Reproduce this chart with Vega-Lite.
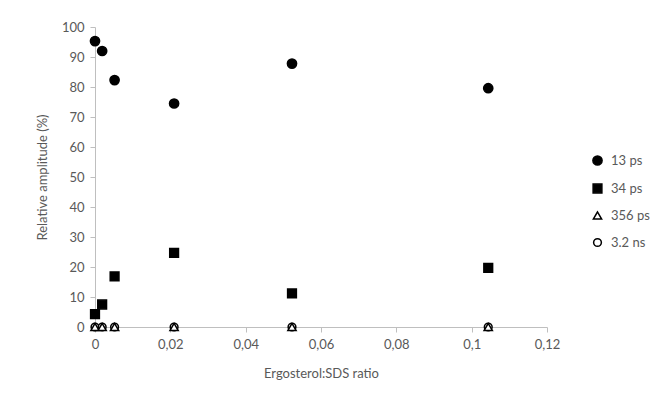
{
  "$schema": "https://vega.github.io/schema/vega-lite/v6.json",
  "width": 452,
  "height": 300,
  "autosize": {"type": "none"},
  "padding": {"left": 95, "top": 27, "right": 117, "bottom": 76},
  "background": "white",
  "config": {
    "view": {"stroke": null},
    "font": "Lato",
    "axis": {"labelColor": "#595959", "titleColor": "#595959", "labelFontSize": 13, "titleFontSize": 13, "titleFontWeight": "normal", "domainColor": "#bfbfbf", "tickColor": "#bfbfbf", "grid": false, "tickSize": 5, "labelFlush": false},
    "locale": {"number": {"decimal": ",", "thousands": " ", "grouping": [3], "currency": ["", " €"]}}
  },
  "data": {"values": [
    {"ratio": 0, "amp": 95.3, "series": "13 ps"},
    {"ratio": 0.0019, "amp": 92.0, "series": "13 ps"},
    {"ratio": 0.0052, "amp": 82.3, "series": "13 ps"},
    {"ratio": 0.021, "amp": 74.5, "series": "13 ps"},
    {"ratio": 0.0523, "amp": 87.8, "series": "13 ps"},
    {"ratio": 0.1044, "amp": 79.6, "series": "13 ps"},
    {"ratio": 0, "amp": 4.3, "series": "34 ps"},
    {"ratio": 0.0019, "amp": 7.5, "series": "34 ps"},
    {"ratio": 0.0052, "amp": 16.9, "series": "34 ps"},
    {"ratio": 0.021, "amp": 24.7, "series": "34 ps"},
    {"ratio": 0.0523, "amp": 11.2, "series": "34 ps"},
    {"ratio": 0.1044, "amp": 19.7, "series": "34 ps"},
    {"ratio": 0, "amp": 0, "series": "3.2 ns"},
    {"ratio": 0.0019, "amp": 0, "series": "3.2 ns"},
    {"ratio": 0.0052, "amp": 0, "series": "3.2 ns"},
    {"ratio": 0.021, "amp": 0, "series": "3.2 ns"},
    {"ratio": 0.0523, "amp": 0, "series": "3.2 ns"},
    {"ratio": 0.1044, "amp": 0, "series": "3.2 ns"},
    {"ratio": 0, "amp": 0, "series": "356 ps"},
    {"ratio": 0.0019, "amp": 0, "series": "356 ps"},
    {"ratio": 0.0052, "amp": 0, "series": "356 ps"},
    {"ratio": 0.021, "amp": 0, "series": "356 ps"},
    {"ratio": 0.0523, "amp": 0, "series": "356 ps"},
    {"ratio": 0.1044, "amp": 0, "series": "356 ps"}
  ]},
  "mark": {"type": "point", "strokeWidth": 1.5, "opacity": 1},
  "encoding": {
    "x": {"field": "ratio", "type": "quantitative", "title": "Ergosterol:SDS ratio", "scale": {"domain": [0, 0.12], "nice": false}, "axis": {"values": [0, 0.02, 0.04, 0.06, 0.08, 0.1, 0.12], "format": ".2~f", "labelPadding": 6, "titlePadding": 16}},
    "y": {"field": "amp", "type": "quantitative", "title": "Relative amplitude (%)", "scale": {"domain": [0, 100], "nice": false}, "axis": {"values": [0, 10, 20, 30, 40, 50, 60, 70, 80, 90, 100], "labelPadding": 6, "titlePadding": 12}},
    "shape": {"field": "series", "type": "nominal", "scale": {"domain": ["13 ps", "34 ps", "356 ps", "3.2 ns"], "range": ["circle", "square", "triangle-up", "circle"]},
      "legend": {"title": null, "orient": "none", "legendX": 496, "legendY": 127, "labelFontSize": 13, "labelColor": "#595959", "rowPadding": 12, "symbolStrokeWidth": 1.5, "labelOffset": 7}},
    "fill": {"field": "series", "type": "nominal", "scale": {"domain": ["13 ps", "34 ps", "356 ps", "3.2 ns"], "range": ["black", "black", "white", "white"]},
      "legend": {"title": null, "orient": "none", "legendX": 496, "legendY": 127, "labelFontSize": 13, "labelColor": "#595959", "rowPadding": 12, "symbolStrokeWidth": 1.5, "labelOffset": 7}},
    "stroke": {"field": "series", "type": "nominal", "scale": {"domain": ["13 ps", "34 ps", "356 ps", "3.2 ns"], "range": ["black", "black", "black", "black"]},
      "legend": {"title": null, "orient": "none", "legendX": 496, "legendY": 127, "labelFontSize": 13, "labelColor": "#595959", "rowPadding": 12, "symbolStrokeWidth": 1.5, "labelOffset": 7}},
    "size": {"field": "series", "type": "nominal", "scale": {"domain": ["13 ps", "34 ps", "356 ps", "3.2 ns"], "range": [85, 60, 40, 45]},
      "legend": {"title": null, "orient": "none", "legendX": 496, "legendY": 127, "labelFontSize": 13, "labelColor": "#595959", "rowPadding": 12, "symbolStrokeWidth": 1.5, "labelOffset": 7}}
  }
}
